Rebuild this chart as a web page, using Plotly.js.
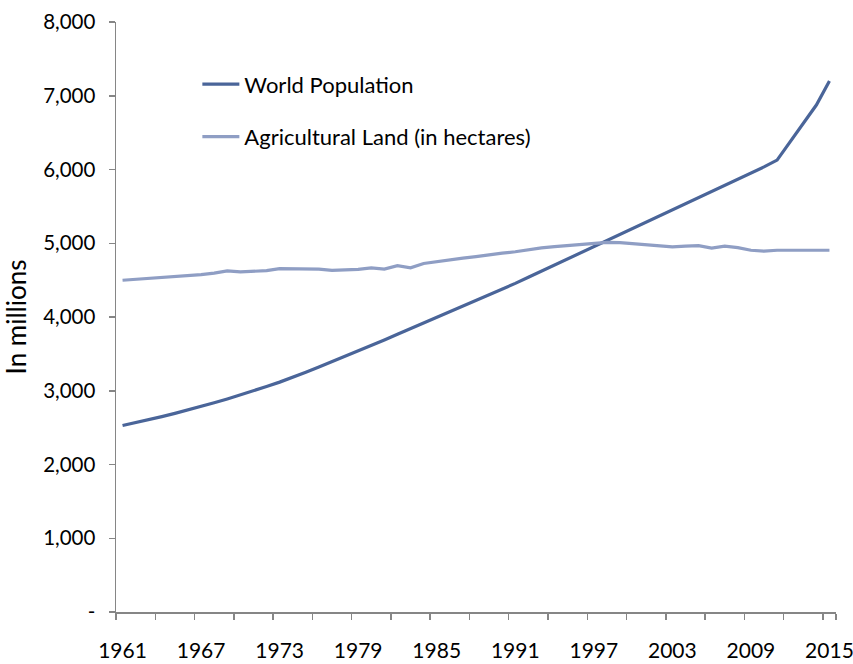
<!DOCTYPE html>
<html>
<head>
<meta charset="utf-8">
<script src="https://cdn.plot.ly/plotly-3.0.1.min.js"></script>
<style>
  html, body { margin: 0; padding: 0; background: #ffffff; }
  #chart { width: 853px; height: 664px; }
</style>
</head>
<body>
<div id="chart"></div>
<script>
// Categories (years)
const years = [];
for (let y = 1961; y <= 2015; y++) years.push(y);

// World Population (millions)
const worldPopulation = [
  2529, 2567, 2607, 2649, 2693, 2739, 2787, 2837, 2889, 2943,
  2999, 3057, 3117, 3181, 3250, 3321, 3393, 3466, 3540, 3614,
  3689, 3765, 3841, 3917, 3993, 4069, 4145, 4221, 4298, 4376,
  4456, 4538, 4621, 4704, 4787, 4870, 4953, 5036, 5119, 5202,
  5285, 5368, 5451, 5534, 5617, 5700, 5783, 5866, 5950, 6035,
  6127, 6374, 6622, 6874, 7199
];

// Agricultural Land (in hectares, millions)
const agriculturalLand = [
  4498, 4510, 4522, 4537, 4555, 4560, 4575, 4595, 4625, 4612,
  4620, 4628, 4655, 4652, 4652, 4648, 4632, 4635, 4645, 4665,
  4650, 4695, 4668, 4725, 4752, 4780, 4798, 4818, 4845, 4865,
  4885, 4912, 4937, 4955, 4968, 4980, 5000, 5012, 5008, 4995,
  4980, 4962, 4951, 4960, 4968, 4935, 4960, 4940, 4905, 4892,
  4905, 4905, 4905, 4905, 4905
];

// Axis labels
const xTickLabels = [1961, 1967, 1973, 1979, 1985, 1991, 1997, 2003, 2009, 2015];
const yTickValues = [0, 1000, 2000, 3000, 4000, 5000, 6000, 7000, 8000];
const yTickLabels = ['-', '1,000', '2,000', '3,000', '4,000', '5,000', '6,000', '7,000', '8,000'];

const seriesNames = ['World Population', 'Agricultural Land (in hectares)'];

// tick marks between categories, every 3 categories
const minorTicks = [];
for (let i = 0; i < years.length; i += 3) minorTicks.push(years[i] - 0.5);
minorTicks.push(years[years.length - 1] + 0.5);

const FONT = 'Lato, "Open Sans", sans-serif';
const AXIS = '#868686';

const traces = [
  {
    x: years, y: worldPopulation, type: 'scatter', mode: 'lines',
    name: seriesNames[0], legendgroup: 'a',
    line: { color: '#4A6599', width: 3.2 }
  },
  {
    x: years, y: agriculturalLand, type: 'scatter', mode: 'lines',
    name: seriesNames[1], legendgroup: 'b',
    line: { color: '#8F9EC4', width: 3.2 }
  }
];

const layout = {
  width: 853, height: 664,
  margin: { l: 116, r: 17, t: 22, b: 52 },
  paper_bgcolor: '#ffffff', plot_bgcolor: '#ffffff',
  font: { family: FONT, size: 20, color: '#000000' },
  showlegend: true,
  legend: {
    x: 0.113, y: 0.93, xanchor: 'left', yanchor: 'top',
    bgcolor: 'rgba(0,0,0,0)', borderwidth: 0,
    font: { family: FONT, size: 22, color: '#000000' },
    traceorder: 'grouped', tracegroupgap: 21, itemwidth: 37
  },
  xaxis: {
    range: [years[0] - 0.5, years[years.length - 1] + 0.5],
    tickmode: 'array', tickvals: xTickLabels, ticktext: xTickLabels.map(String),
    ticks: '', showgrid: false, zeroline: false,
    showline: true, linecolor: AXIS, linewidth: 1.5,
    ticklabelstandoff: 19, ticklabeloverflow: 'allow',
    tickfont: { family: FONT, size: 21, color: '#000000' },
    minor: { tickmode: 'array', tickvals: minorTicks, ticks: 'outside', ticklen: 6, tickcolor: AXIS, tickwidth: 1.5, showgrid: false }
  },
  yaxis: {
    range: [0, 8000],
    tickmode: 'array', tickvals: yTickValues, ticktext: yTickLabels,
    ticks: 'outside', ticklen: 6, tickcolor: AXIS, tickwidth: 1.5,
    showgrid: false, zeroline: false,
    showline: true, linecolor: AXIS, linewidth: 1.5,
    ticklabelstandoff: 9, ticklabeloverflow: 'allow',
    tickfont: { family: FONT, size: 20.5, color: '#000000' },
    title: { text: 'In millions', font: { family: FONT, size: 26, color: '#000000' }, standoff: 12 }
  }
};

Plotly.newPlot('chart', traces, layout, { displayModeBar: false, staticPlot: true });
</script>
</body>
</html>
